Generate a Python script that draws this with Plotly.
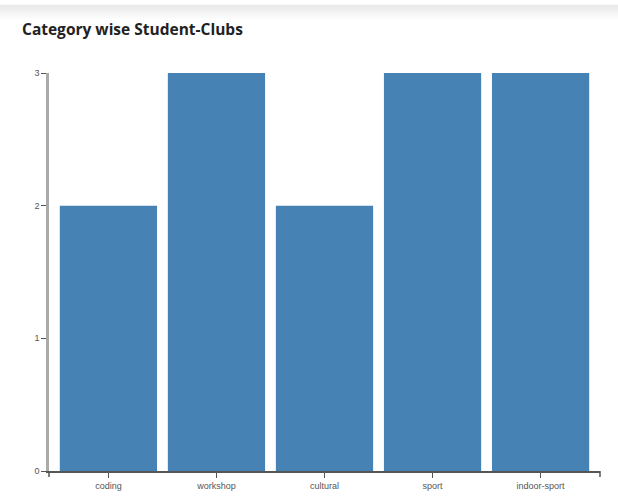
import plotly.graph_objects as go

categories = ["coding", "workshop", "cultural", "sport", "indoor-sport"]
counts = [2, 3, 2, 3, 3]
y_ticks = [0, 1, 2, 3]

W, H = 618, 503
ML, MR, MT, MB = 49, 18, 73, 28
ph = H - MT - MB
pw = W - ML - MR

fig = go.Figure(go.Bar(
    x=categories, y=counts,
    marker=dict(color="#4682b4", line=dict(width=0)),
    hoverinfo="x+y",
))

def py(pix):
    return 1 + (MT - pix) / ph

shapes = []
# soft gray header band
steps = 16
for i in range(steps):
    top = 4 + i
    a = 0.09 * (1 - i / steps)
    shapes.append(dict(type="rect", xref="paper", yref="paper",
                       x0=-ML / pw, x1=1 + MR / pw,
                       y0=py(top + 1), y1=py(top),
                       fillcolor=f"rgba(0,0,0,{a:.3f})", line=dict(width=0), layer="below"))
# outer end ticks of the d3-style axis
shapes.append(dict(type="line", xref="paper", yref="paper",
                   x0=1, x1=1, y0=0, y1=-6 / ph,
                   line=dict(color="#555", width=1.5)))
shapes.append(dict(type="line", xref="paper", yref="paper",
                   x0=0, x1=0, y0=0, y1=-6 / ph,
                   line=dict(color="#555", width=1.5)))

fig.update_layout(
    width=W, height=H,
    margin=dict(l=ML, r=MR, t=MT, b=MB),
    paper_bgcolor="white", plot_bgcolor="white",
    bargap=0.1,
    showlegend=False,
    shapes=shapes,
    title=dict(text="<b>Category wise Student-Clubs</b>",
               x=22 / W, xanchor="left", xref="container",
               y=1 - 30 / H, yanchor="middle", yref="container",
               font=dict(family="Open Sans, Noto Sans, sans-serif", size=15.5, color="#222")),
    xaxis=dict(range=[-0.55, 4.55], showgrid=False, zeroline=False,
               showline=True, linecolor="#555", linewidth=1.5,
               ticks="outside", ticklen=5, tickcolor="#555", tickwidth=1,
               tickfont=dict(family="Liberation Sans, Arial, sans-serif", size=9, color="#555"),
               fixedrange=True),
    yaxis=dict(range=[0, 3], tickvals=y_ticks, showgrid=False, zeroline=False,
               showline=True, linecolor="#aaa", linewidth=2.5,
               ticks="outside", ticklen=5, tickcolor="#555", tickwidth=1,
               tickfont=dict(family="Liberation Sans, Arial, sans-serif", size=9, color="#555"),
               fixedrange=True),
)

fig.write_html("out.html", config={"displayModeBar": False})

with open("out.html", "r", encoding="utf-8") as f:
    html = f.read()
html = html.replace("<head>", "<head><style>html,body{margin:0;padding:0;overflow:hidden;}</style>", 1)
with open("out.html", "w", encoding="utf-8") as f:
    f.write(html)
